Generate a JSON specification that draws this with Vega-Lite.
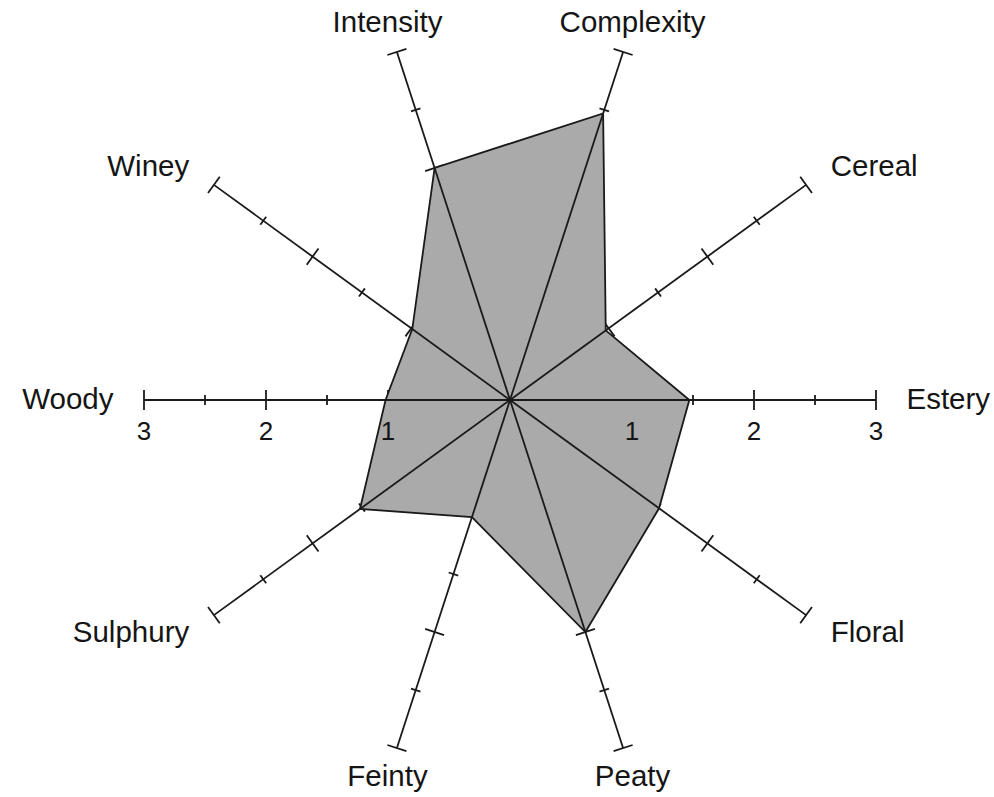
{
  "$schema": "https://vega.github.io/schema/vega-lite/v6.json",
  "width": 994,
  "height": 797,
  "autosize": {"type": "none"},
  "padding": 0,
  "background": "white",
  "config": {"view": {"stroke": null}, "axis": {"domain": false, "grid": false, "ticks": false, "labels": false, "title": null}},
  "datasets": {
    "axes": [
      {"axis": "Estery", "index": 0, "value": 1.47, "ticks": [0.5, 1, 1.5, 2, 2.5, 3]},
      {"axis": "Cereal", "index": 1, "value": 0.97, "ticks": [0.5, 1, 1.5, 2, 2.5, 3]},
      {"axis": "Complexity", "index": 2, "value": 2.47, "ticks": [0.5, 1, 1.5, 2, 2.5, 3]},
      {"axis": "Intensity", "index": 3, "value": 2.0, "ticks": [0.5, 1, 1.5, 2, 2.5, 3]},
      {"axis": "Winey", "index": 4, "value": 0.99, "ticks": [0.5, 1, 1.5, 2, 2.5, 3]},
      {"axis": "Woody", "index": 5, "value": 1.02, "ticks": [0.5, 1, 1.5, 2, 2.5, 3]},
      {"axis": "Sulphury", "index": 6, "value": 1.52, "ticks": [0.5, 1, 1.5, 2, 2.5, 3]},
      {"axis": "Feinty", "index": 7, "value": 1.01, "ticks": [0.5, 1, 1.5, 2, 2.5, 3]},
      {"axis": "Peaty", "index": 8, "value": 2.0, "ticks": [0.5, 1, 1.5, 2, 2.5, 3]},
      {"axis": "Floral", "index": 9, "value": 1.51, "ticks": [0.5, 1, 1.5, 2, 2.5, 3]}
    ],
    "scaleLabels": [
      {"axis": "Estery", "index": 0, "v": 1, "label": "1"},
      {"axis": "Estery", "index": 0, "v": 2, "label": "2"},
      {"axis": "Estery", "index": 0, "v": 3, "label": "3"},
      {"axis": "Woody", "index": 5, "v": 1, "label": "1"},
      {"axis": "Woody", "index": 5, "v": 2, "label": "2"},
      {"axis": "Woody", "index": 5, "v": 3, "label": "3"}
    ]
  },
  "layer": [
    {
      "data": {"name": "axes"},
      "transform": [
        {"flatten": ["ticks"], "as": ["r"]},
        {"calculate": "datum.index * PI / 5", "as": "a"},
        {"calculate": "datum.r % 1 == 0 ? 0.082 : 0.041", "as": "h"},
        {"calculate": "datum.r * cos(datum.a) - datum.h * sin(datum.a)", "as": "x1"},
        {"calculate": "datum.r * sin(datum.a) + datum.h * cos(datum.a)", "as": "y1"},
        {"calculate": "datum.r * cos(datum.a) + datum.h * sin(datum.a)", "as": "x2"},
        {"calculate": "datum.r * sin(datum.a) - datum.h * cos(datum.a)", "as": "y2"}
      ],
      "mark": {"type": "rule", "color": "#1a1a1a", "strokeWidth": 1.8},
      "encoding": {
        "x": {"field": "x1", "type": "quantitative", "scale": {"domain": [-4.1803, 3.9672], "nice": false, "zero": false}, "axis": null},
        "y": {"field": "y1", "type": "quantitative", "scale": {"domain": [-3.2541, 3.2787], "nice": false, "zero": false}, "axis": null},
        "x2": {"field": "x2"},
        "y2": {"field": "y2"}
      }
    },
    {
      "data": {"name": "axes"},
      "transform": [
        {"calculate": "datum.index * PI / 5", "as": "a"},
        {"calculate": "datum.value * cos(datum.a)", "as": "px"},
        {"calculate": "datum.value * sin(datum.a)", "as": "py"}
      ],
      "mark": {"type": "line", "interpolate": "linear-closed", "fill": "#aaaaaa", "stroke": "#1a1a1a", "strokeWidth": 1.8, "strokeJoin": "miter"},
      "encoding": {
        "x": {"field": "px", "type": "quantitative"},
        "y": {"field": "py", "type": "quantitative"},
        "order": {"field": "index", "type": "quantitative"}
      }
    },
    {
      "data": {"name": "axes"},
      "transform": [
        {"calculate": "datum.index * PI / 5", "as": "a"},
        {"calculate": "0", "as": "ox"},
        {"calculate": "0", "as": "oy"},
        {"calculate": "3 * cos(datum.a)", "as": "ex"},
        {"calculate": "3 * sin(datum.a)", "as": "ey"}
      ],
      "mark": {"type": "rule", "color": "#1a1a1a", "strokeWidth": 1.8},
      "encoding": {
        "x": {"field": "ox", "type": "quantitative"},
        "y": {"field": "oy", "type": "quantitative"},
        "x2": {"field": "ex"},
        "y2": {"field": "ey"}
      }
    },
    {
      "data": {"name": "axes"},
      "transform": [
        {"calculate": "datum.index * PI / 5", "as": "a"},
        {"calculate": "3.25 * cos(datum.a)", "as": "lx"},
        {"calculate": "3.25 * sin(datum.a)", "as": "ly"},
        {"calculate": "cos(datum.a) > 0.5 ? 'left' : (cos(datum.a) < -0.5 ? 'right' : 'center')", "as": "al"}
      ],
      "mark": {"type": "text", "font": "Liberation Sans", "fontSize": 29.5, "color": "#151515", "baseline": "middle", "align": {"expr": "datum.al"}},
      "encoding": {
        "x": {"field": "lx", "type": "quantitative"},
        "y": {"field": "ly", "type": "quantitative"},
        "text": {"field": "axis"}
      }
    },
    {
      "data": {"name": "scaleLabels"},
      "transform": [
        {"calculate": "datum.v * cos(datum.index * PI / 5)", "as": "tx"},
        {"calculate": "-0.26", "as": "ty"}
      ],
      "mark": {"type": "text", "font": "Liberation Sans", "fontSize": 26, "color": "#151515", "baseline": "middle", "align": "center"},
      "encoding": {
        "x": {"field": "tx", "type": "quantitative"},
        "y": {"field": "ty", "type": "quantitative"},
        "text": {"field": "label"}
      }
    }
  ]
}
